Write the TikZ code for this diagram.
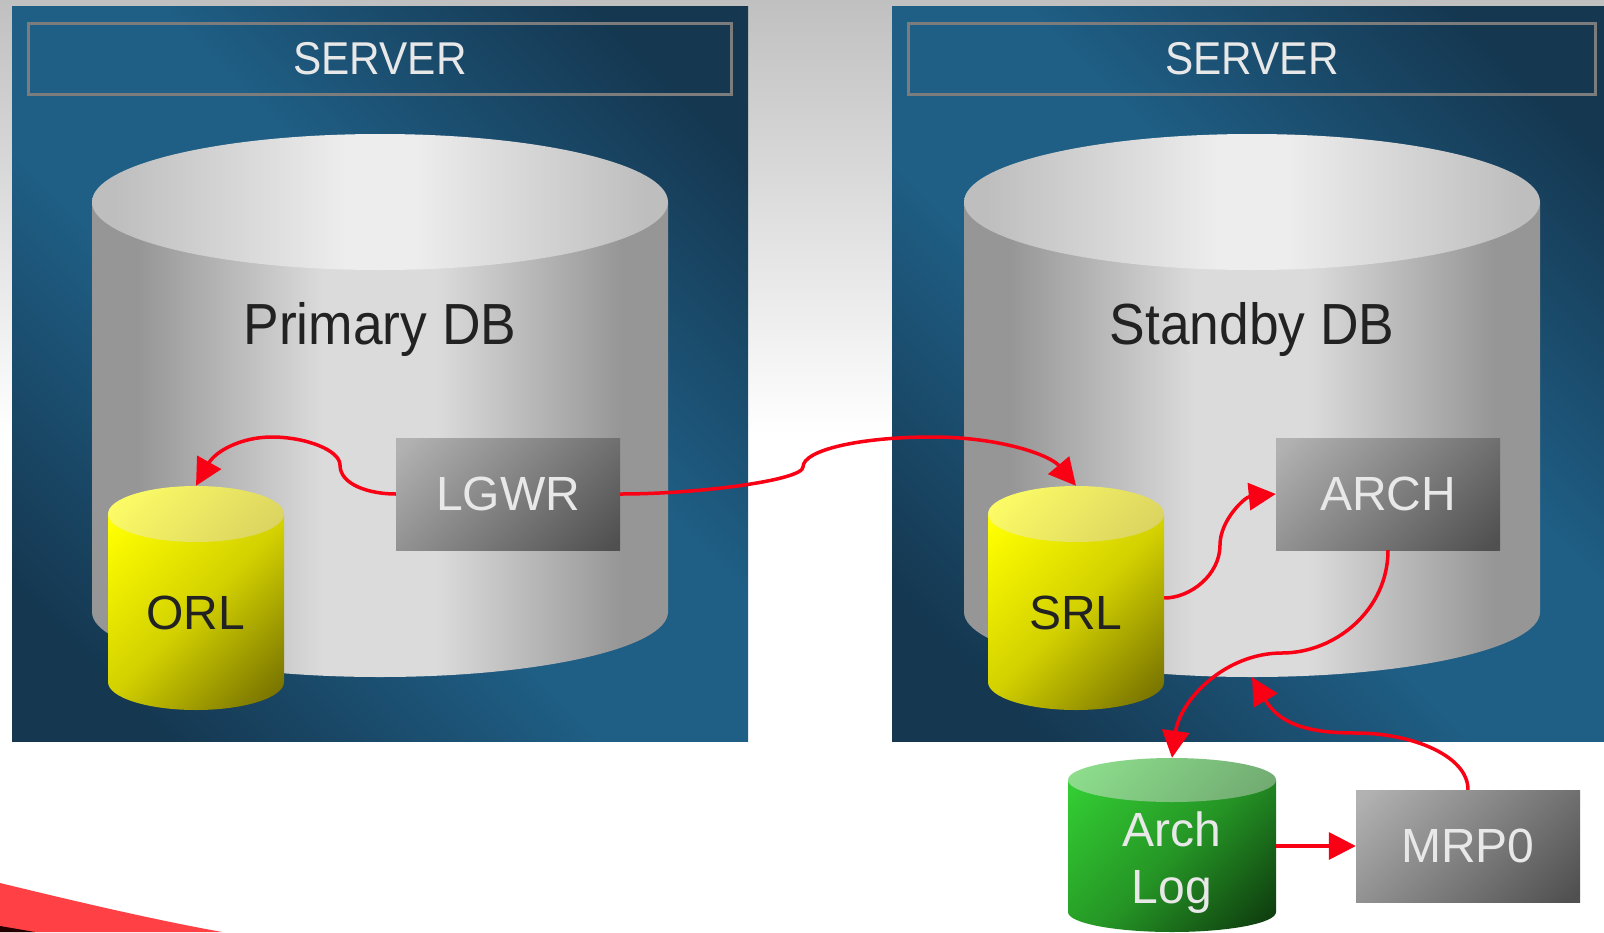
\documentclass[tikz,border=0pt]{standalone}
\usepackage{fontspec}
\setmainfont{Liberation Sans}
\newfontfamily\narrowsans[FakeStretch=0.92]{Liberation Sans}
\usetikzlibrary{arrows.meta}
\definecolor{srvL}{HTML}{1F5E85}
\definecolor{srvD}{HTML}{153750}
\definecolor{sideE}{HTML}{969696}
\definecolor{sideC}{HTML}{DBDBDB}
\definecolor{topE}{HTML}{BEBEBE}
\definecolor{topC}{HTML}{EDEDED}
\definecolor{boxL}{HTML}{B2B2B2}
\definecolor{boxD}{HTML}{505050}
\definecolor{yelL}{HTML}{FFFF00}
\definecolor{yelM}{HTML}{D2D000}
\definecolor{yelD}{HTML}{736E00}
\definecolor{yelTL}{HTML}{FFFF66}
\definecolor{yelTD}{HTML}{D8D060}
\definecolor{grnL}{HTML}{33CC33}
\definecolor{grnM}{HTML}{259525}
\definecolor{grnD}{HTML}{0E3A0E}
\definecolor{grnTL}{HTML}{8EE08E}
\definecolor{grnTD}{HTML}{70A870}
\definecolor{linkred}{HTML}{FA0014}
\definecolor{bgtop}{HTML}{C0C0C0}
\definecolor{swoosh}{HTML}{FF4044}
\definecolor{txtL}{HTML}{E8E8E8}
\definecolor{txtD}{HTML}{222222}
\definecolor{titleline}{HTML}{7C7C7C}
\pgfdeclareverticalshading{srvshade}{100bp}{color(0bp)=(srvD); color(21.7bp)=(srvD); color(42.9bp)=(srvL); color(57.1bp)=(srvL); color(78.3bp)=(srvD); color(100bp)=(srvD)}
\pgfdeclarehorizontalshading{sideshade}{100bp}{color(0bp)=(sideE); color(29bp)=(sideE); color(45bp)=(sideC); color(55bp)=(sideC); color(71bp)=(sideE); color(100bp)=(sideE)}
\pgfdeclarehorizontalshading{topshade}{100bp}{color(0bp)=(topE); color(27bp)=(topE); color(47bp)=(topC); color(53bp)=(topC); color(73bp)=(topE); color(100bp)=(topE)}
\pgfdeclareverticalshading{boxshade}{100bp}{color(0bp)=(boxD); color(17bp)=(boxD); color(83bp)=(boxL); color(100bp)=(boxL)}
\pgfdeclareverticalshading{yelshade}{100bp}{color(0bp)=(yelD); color(17bp)=(yelD); color(50bp)=(yelM); color(83bp)=(yelL); color(100bp)=(yelL)}
\pgfdeclareverticalshading{yeltshade}{100bp}{color(0bp)=(yelTD); color(17bp)=(yelTD); color(83bp)=(yelTL); color(100bp)=(yelTL)}
\pgfdeclareverticalshading{grnshade}{100bp}{color(0bp)=(grnD); color(17bp)=(grnD); color(50bp)=(grnM); color(83bp)=(grnL); color(100bp)=(grnL)}
\pgfdeclareverticalshading{grntshade}{100bp}{color(0bp)=(grnTD); color(17bp)=(grnTD); color(83bp)=(grnTL); color(100bp)=(grnTL)}
% body of a cylinder: cx, rx, y of top rim centre, y of bottom rim centre, ry
\newcommand\cylside[5]{({#1-#2},{#3}) -- ({#1-#2},{#4}) .. controls ({#1-#2},{#4+.5523*#5}) and ({#1-.5523*#2},{#4+#5}) .. ({#1},{#4+#5}) .. controls ({#1+.5523*#2},{#4+#5}) and ({#1+#2},{#4+.5523*#5}) .. ({#1+#2},{#4}) -- ({#1+#2},{#3}) -- cycle}
\tikzset{
  server/.style={shading=srvshade,shading angle=315},
  titlebox/.style={draw=titleline,line width=3pt,fill=none,inner sep=0pt,outer sep=0pt,text=txtL,font=\narrowsans\fontsize{46}{46}\selectfont},
  procbox/.style={shading=boxshade,shading angle=45,minimum width=224pt,minimum height=112pt,inner sep=0pt,text=txtL,font=\fontsize{48}{48}\selectfont},
  anchorbox/.style={inner sep=0pt,draw=none,fill=none},
  darklabel/.style={anchor=base,inner sep=0pt,text=txtD,font=\fontsize{48}{48}\selectfont},
  dblabel/.style={anchor=base,inner sep=0pt,text=txtD,font=\narrowsans\fontsize{58}{58}\selectfont},
  lightlabel/.style={anchor=base,inner sep=0pt,text=txtL,font=\fontsize{48}{48}\selectfont},
  link/.style={draw=linkred,line width=3.5pt,-{Triangle[length=27pt,width=27pt]}},
}
\begin{document}
\begin{tikzpicture}[x=1pt,y=-1pt]
\useasboundingbox (0,0) rectangle (1604,932);
\fill[white] (0,0) rectangle (1604,932);
\shade[top color=bgtop,bottom color=white] (0,0) rectangle (1604,435);
% swoosh
\fill[swoosh] (0,883) .. controls (70,900) and (150,919) .. (222,932) -- (0,932) -- cycle;
\fill[black!85!red] (0,926) -- (35,932) -- (0,932) -- cycle;
% servers
\shade[server] (12,6) rectangle (748,741);
\shade[server] (892,6) rectangle (1604,741);
\node[titlebox,minimum width=703pt,minimum height=71pt] (title1) at (380,58.5) {SERVER};
\node[titlebox,minimum width=687pt,minimum height=71pt] (title2) at (1252,58.5) {SERVER};
% big cylinders
\shade[shading=sideshade] \cylside{380}{288}{202}{612}{65};
\shade[shading=topshade] (380,202) ellipse [x radius=288,y radius=68];
\shade[shading=sideshade] \cylside{1252}{288}{202}{612}{65};
\shade[shading=topshade] (1252,202) ellipse [x radius=288,y radius=68];
\node[anchorbox,minimum width=576pt,minimum height=543pt] (primary) at (380,405.5) {};
\node[anchorbox,minimum width=576pt,minimum height=543pt] (standby) at (1252,405.5) {};
\node[dblabel] (primarytext) at (380,344) {Primary DB};
\node[dblabel] (standbytext) at (1252,344) {Standby DB};
% processes
\node[procbox] (lgwr) at (508,494) {LGWR};
\node[procbox] (arch) at (1388,494) {ARCH};
\node[procbox] (mrp) at (1468,846) {MRP0};
% small cylinders
\shade[shading=yelshade,shading angle=45] \cylside{196}{88}{514}{682}{28};
\shade[shading=yeltshade,shading angle=45] (196,514) ellipse [x radius=88,y radius=28];
\node[anchorbox,minimum width=176pt,minimum height=224pt] (orl) at (196,598) {};
\node[darklabel] (orltext) at (196,629) {ORL};
\shade[shading=yelshade,shading angle=45] \cylside{1076}{88}{514}{682}{28};
\shade[shading=yeltshade,shading angle=45] (1076,514) ellipse [x radius=88,y radius=28];
\node[anchorbox,minimum width=176pt,minimum height=224pt] (srl) at (1076,598) {};
\node[darklabel] (srltext) at (1076,629) {SRL};
\shade[shading=grnshade,shading angle=45] \cylside{1172}{104}{780}{912}{20};
\shade[shading=grntshade,shading angle=45] (1172,780) ellipse [x radius=104,y radius=22];
\node[anchorbox,minimum width=208pt,minimum height=174pt] (archlog) at (1172,845) {};
\node[lightlabel] (archtext) at (1172,846) {Arch};
\node[lightlabel] (logtext) at (1172,903) {Log};
% connectors
\draw[link] (lgwr.west) .. controls +(-26,0) and (340,485) .. (340,465) .. controls (340,450) and (305,437) .. (272,437) .. controls (240,437) and (215,452) .. (orl.north);
\draw[link] (lgwr.east) .. controls +(80,0) and (803,480) .. (803,467) .. controls (803,450) and (860,437) .. (932,437) .. controls (1000,437) and (1050,455) .. (srl.north);
\draw[link] (srl.east) .. controls +(26,0) and (1220,575) .. (1220,545) .. controls (1220,520) and (1245,497) .. (arch.west);
\draw[link] (arch.south) .. controls +(0,60) and (1335,653) .. (1282,653) .. controls (1225,653) and (1180,700) .. (archlog.north);
\draw[link] (mrp.north) .. controls +(0,-35) and (1410,733) .. (1356,733) .. controls (1310,733) and (1280,725) .. (standby.south);
\draw[link] (archlog.east |- mrp.west) -- (mrp.west);
\end{tikzpicture}
\end{document}
